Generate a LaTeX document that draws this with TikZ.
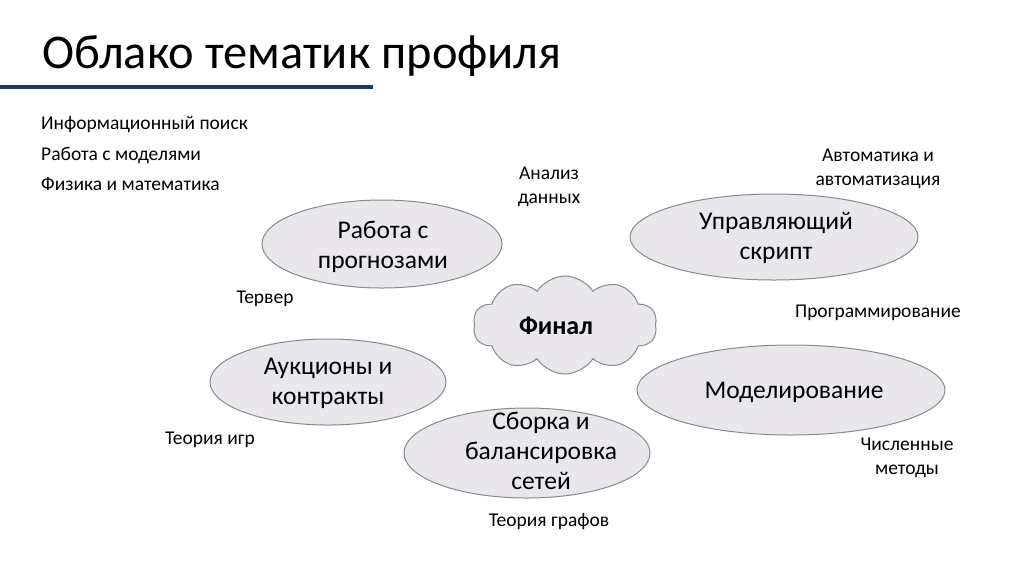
\documentclass[tikz,border=0pt]{standalone}
\usepackage{fontspec}
\setmainfont{Carlito}
\usetikzlibrary{shapes.symbols,shapes.geometric}
\definecolor{ellfill}{HTML}{E9E7EB}
\definecolor{ellline}{HTML}{8A8A8A}
\definecolor{navy}{HTML}{1B3A66}
\tikzset{
  topic/.style={ellipse, fill=ellfill, draw=ellline, line width=1pt, inner sep=0pt, align=center, font=\fontsize{25.5}{30}\selectfont},
  topictext/.style={inner sep=0pt, align=center, font=\fontsize{25.5}{30}\selectfont},
  lbl/.style={inner sep=0pt, align=center, font=\fontsize{19.5}{23.5}\selectfont},
  lst/.style={inner sep=0pt, anchor=base west, font=\fontsize{19.5}{23}\selectfont},
  finale/.style={cloud, cloud puffs=10, cloud puff arc=115, aspect=1.9, fill=ellfill, draw=ellline, line width=1pt, inner sep=0pt}
}
\begin{document}
\begin{tikzpicture}[x=1pt,y=-1pt]
\useasboundingbox[fill=white] (0,0) rectangle (1024,574);
\node[inner sep=0pt, anchor=base west, font=\fontsize{48.4}{52}\selectfont] (title) at (42,68) {Облако тематик профиля};
\coordinate (lineA) at (0,87);
\coordinate (lineB) at (373,87);
\draw[navy, line width=3.5pt] (lineA) -- (lineB);

\node[lst] (l1) at (41,129) {Информационный поиск};
\node[lst] (l2) at (41,160) {Работа с моделями};
\node[lst] (l3) at (41,190) {Физика и математика};

\node[topic, minimum width=240, minimum height=88] (e1) at (382,244) {};
\node[topictext] (e1t) at (383,247) {Работа с\\прогнозами};
\node[topic, minimum width=288, minimum height=86] (e2) at (774,237) {};
\node[topictext] (e2t) at (776,238) {Управляющий\\скрипт};
\node[topic, minimum width=236, minimum height=86] (e3) at (328,382) {};
\node[topictext] (e3t) at (328,383) {Аукционы и\\контракты};
\node[topic, minimum width=308, minimum height=90] (e4) at (791,390) {};
\node[topictext] (e4t) at (794,392) {Моделирование};
\node[topic, minimum width=246, minimum height=90] (e5) at (527,453) {};
\node[topictext] (e5t) at (541,451) {Сборка и\\балансировка\\сетей};

\node[finale, minimum width=184, minimum height=98] (fin) at (565,325) {};
\node[inner sep=0pt, font=\bfseries\fontsize{26}{30}\selectfont] (fint) at (556,326) {Финал};

\node[lbl] (a1) at (549,187) {Анализ\\данных};
\node[lbl] (a2) at (878,169) {Автоматика и\\автоматизация};
\node[lbl] (a3) at (265,299) {Тервер};
\node[lbl] (a4) at (878,313) {Программирование};
\node[lbl] (a5) at (210,440) {Теория игр};
\node[lbl] (a6) at (907,458) {Численные\\методы};
\node[lbl] (a7) at (549,522) {Теория графов};
\end{tikzpicture}
\end{document}
